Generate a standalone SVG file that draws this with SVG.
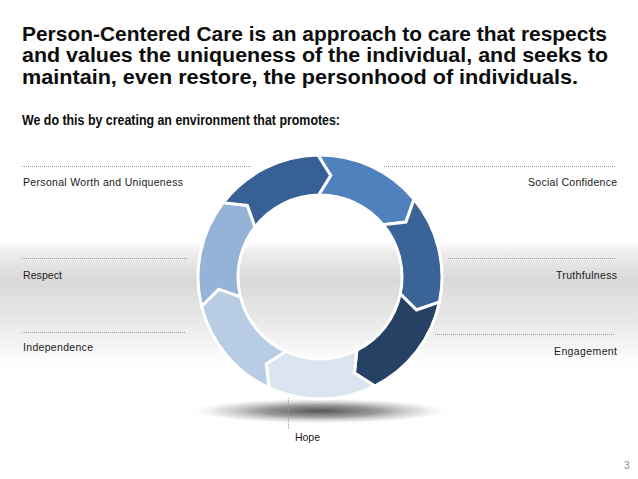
<svg xmlns="http://www.w3.org/2000/svg" width="638" height="479" viewBox="0 0 638 479">
<defs>
<linearGradient id="band" x1="0" y1="0" x2="0" y2="1">
<stop offset="0" stop-color="#ffffff"/>
<stop offset="0.08" stop-color="#eeeeee"/>
<stop offset="0.3" stop-color="#d9d9d9"/>
<stop offset="0.6" stop-color="#e6e6e6"/>
<stop offset="1" stop-color="#ffffff"/>
</linearGradient>
<radialGradient id="shadow" cx="0.5" cy="0.5" r="0.5">
<stop offset="0" stop-color="#4a4a4a" stop-opacity="0.95"/>
<stop offset="0.45" stop-color="#707070" stop-opacity="0.7"/>
<stop offset="0.8" stop-color="#b0b0b0" stop-opacity="0.3"/>
<stop offset="1" stop-color="#ffffff" stop-opacity="0"/>
</radialGradient>
<style>
.title{font-family:"Liberation Sans",Arial,sans-serif;font-weight:bold;font-size:21px;fill:#0d0d0d}
.sub{font-family:"Liberation Sans",Arial,sans-serif;font-weight:bold;font-size:14px;fill:#0d0d0d}
.lbl{font-family:"Liberation Sans",Arial,sans-serif;font-size:10.5px;fill:#1a1a1a}
.seg{stroke:#ffffff;stroke-width:3;stroke-linejoin:miter}
.dot{stroke:#9a9a9a;stroke-width:1;stroke-dasharray:1 1;fill:none}
.pg{font-family:"Liberation Sans",Arial,sans-serif;font-size:10px;fill:#8c8c8c}
</style>
</defs>
<rect x="0" y="0" width="638" height="479" fill="#ffffff"/>
<rect x="0" y="242" width="638" height="124" fill="url(#band)"/>
<ellipse cx="320" cy="411" rx="132" ry="13" fill="url(#shadow)"/>

<g id="title">
<text class="title" x="22" y="41" textLength="585" lengthAdjust="spacingAndGlyphs">Person-Centered Care is an approach to care that respects</text>
<text class="title" x="22" y="62" textLength="586" lengthAdjust="spacingAndGlyphs">and values the uniqueness of the individual, and seeks to</text>
<text class="title" x="22" y="84" textLength="556" lengthAdjust="spacingAndGlyphs">maintain, even restore, the personhood of  individuals.</text>
<text class="sub" x="22" y="125" textLength="318" lengthAdjust="spacingAndGlyphs">We do this by creating an environment that promotes:</text>
</g>

<g id="connectors">
<line class="dot" x1="22" y1="166.5" x2="252" y2="166.5"/>
<line class="dot" x1="22" y1="258.5" x2="188" y2="258.5"/>
<line class="dot" x1="22" y1="332.5" x2="186" y2="332.5"/>
<line class="dot" x1="384" y1="166.5" x2="615" y2="166.5"/>
<line class="dot" x1="448" y1="258.5" x2="615" y2="258.5"/>
<line class="dot" x1="435" y1="334.5" x2="615" y2="334.5"/>
<line class="dot" x1="288.5" y1="398" x2="288.5" y2="430"/>
</g>

<g id="cycle">
<g id="seg-top-right"><path class="seg" fill="#4f81bd" d="M317.87,155.02 A122,122 0 0 1 414.04,199.29 L405.96,222.09 L383.21,224.77 A82,82 0 0 0 318.57,195.01 L330.66,175.56 Z"/></g>
<g id="seg-right"><path class="seg" fill="#3a6498" d="M414.04,199.29 A122,122 0 0 1 439.39,302.07 L416.52,309.97 L400.25,293.85 A82,82 0 0 0 383.21,224.77 L405.96,222.09 Z"/></g>
<g id="seg-bottom-right"><path class="seg" fill="#254164" d="M439.39,302.07 A122,122 0 0 1 374.83,385.98 L354.40,373.02 L356.86,350.25 A82,82 0 0 0 400.25,293.85 L416.52,309.97 Z"/></g>
<g id="seg-bottom"><path class="seg" fill="#dbe5f1" d="M374.83,385.98 A122,122 0 0 1 269.00,387.83 L266.39,363.77 L285.72,351.49 A82,82 0 0 0 356.86,350.25 L354.40,373.02 Z"/></g>
<g id="seg-bottom-left"><path class="seg" fill="#b8cce4" d="M269.00,387.83 A122,122 0 0 1 201.55,306.22 L218.73,289.18 L240.39,296.64 A82,82 0 0 0 285.72,351.49 L266.39,363.77 Z"/></g>
<g id="seg-left"><path class="seg" fill="#95b3d7" d="M201.55,306.22 A122,122 0 0 1 223.31,202.62 L247.34,205.42 L255.01,227.00 A82,82 0 0 0 240.39,296.64 L218.73,289.18 Z"/></g>
<g id="seg-top-left"><path class="seg" fill="#376196" d="M223.31,202.62 A122,122 0 0 1 317.87,155.02 L330.66,175.56 L318.57,195.01 A82,82 0 0 0 255.01,227.00 L247.34,205.42 Z"/></g>
</g>

<g id="label-personal-worth"><text class="lbl" x="23" y="186" textLength="160" lengthAdjust="spacing">Personal Worth and Uniqueness</text></g>
<g id="label-respect"><text class="lbl" x="23" y="279" textLength="39" lengthAdjust="spacing">Respect</text></g>
<g id="label-independence"><text class="lbl" x="23" y="351" textLength="70" lengthAdjust="spacing">Independence</text></g>
<g id="label-social-confidence"><text class="lbl" x="528" y="186" textLength="89" lengthAdjust="spacing">Social Confidence</text></g>
<g id="label-truthfulness"><text class="lbl" x="556" y="279" textLength="61" lengthAdjust="spacing">Truthfulness</text></g>
<g id="label-engagement"><text class="lbl" x="554" y="355" textLength="63" lengthAdjust="spacing">Engagement</text></g>
<g id="label-hope"><text class="lbl" x="295" y="441" textLength="25" lengthAdjust="spacing">Hope</text></g>

<text class="pg" x="624" y="469">3</text>
</svg>
